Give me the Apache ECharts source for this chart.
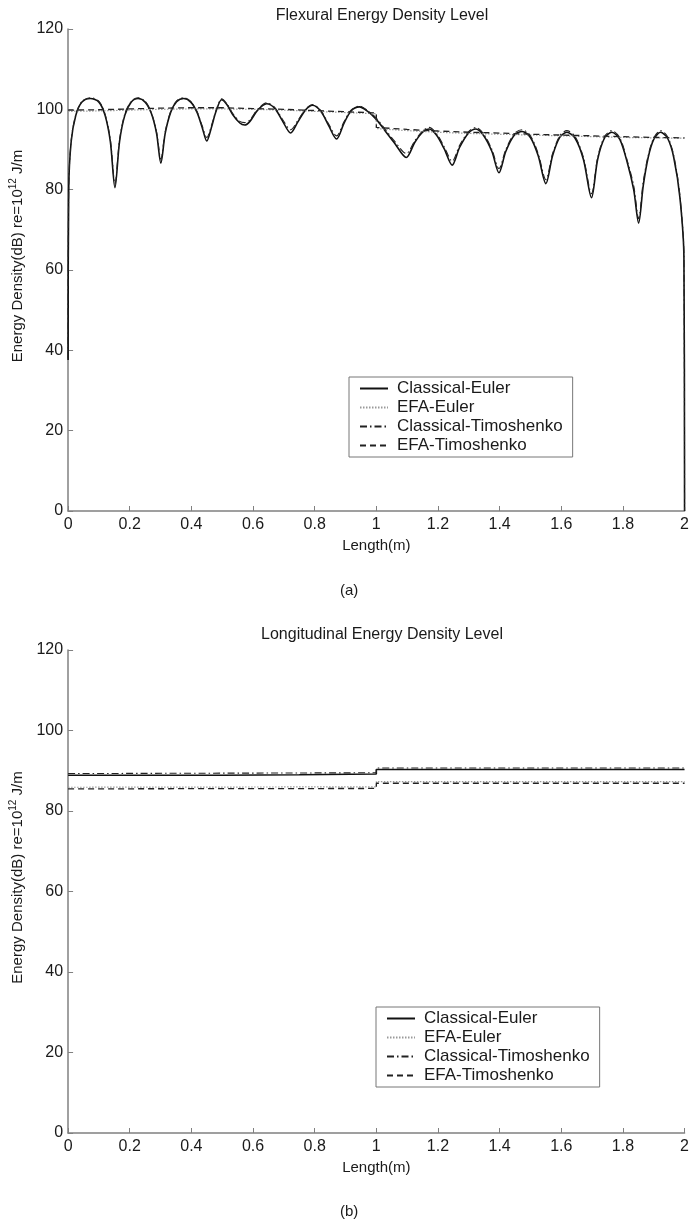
<!DOCTYPE html>
<html>
<head>
<meta charset="utf-8">
<script src="https://cdn.jsdelivr.net/npm/echarts@6/dist/echarts.min.js"></script>
<style>
html,body{margin:0;padding:0;background:#fff;}
#chart{width:692px;height:1228px;}
</style>
</head>
<body>
<div id="chart"></div>
<script>
// ---------- DATA ----------
const seriesNames = ['Classical-Euler', 'EFA-Euler', 'Classical-Timoshenko', 'EFA-Timoshenko'];
const xTicks = { min: 0, max: 2, interval: 0.2 };
const yTicks = { min: 0, max: 120, interval: 20 };

// (a) Flexural energy density level [x (m), dB]
const flexClassicalEuler = [
  [0,37.6],[0.002,80],[0.01,92],[0.025,98.5],[0.045,101.8],[0.072,102.7],[0.1,101.8],[0.12,98.5],[0.137,92],
  [0.152,80.5],[0.167,92],[0.184,98.5],[0.205,101.8],[0.227,102.7],[0.25,101.8],[0.27,99],[0.287,94],
  [0.301,86.6],[0.315,94],[0.333,99.3],[0.352,101.9],[0.375,102.7],[0.398,101.8],[0.418,99.3],[0.435,95.5],
  [0.45,92.1],[0.465,95.5],[0.48,99.5],[0.498,102.4],[0.515,101.2],[0.535,98.6],[0.557,96.6],[0.573,96.1],
  [0.59,97],[0.615,99.8],[0.644,101.4],[0.67,100.3],[0.695,97.2],[0.722,94.1],[0.745,96.8],[0.77,99.8],
  [0.793,101.0],[0.82,99.5],[0.845,96],[0.871,92.6],[0.895,96.5],[0.918,99.6],[0.945,100.6],[0.97,99.6],
  [1.0,97.5],[1.03,94.5],[1.06,91.5],[1.097,88.0],[1.125,91.8],[1.15,94.3],[1.171,95.1],[1.195,93.6],
  [1.22,90.2],[1.246,86.1],[1.27,90.5],[1.298,94],[1.323,95.1],[1.348,93.5],[1.375,89.5],[1.398,84.2],
  [1.42,89.5],[1.448,93.6],[1.473,94.5],[1.5,93],[1.525,88.5],[1.55,81.5],[1.572,88.5],[1.595,93],
  [1.618,94.3],[1.645,92.8],[1.672,87.5],[1.698,78],[1.718,87.5],[1.74,92.8],[1.764,94.3],[1.79,92.5],
  [1.815,86.5],[1.835,80],[1.851,71.7],[1.866,81],[1.882,88],[1.9,92.5],[1.922,94.3],[1.945,92.8],
  [1.965,88],[1.985,78],[1.998,63],[2.0,0]
];
const flexClassicalTimo = [
  [0,38],[0.002,80.5],[0.01,92.3],[0.025,98.7],[0.045,102],[0.072,102.9],[0.1,102],[0.12,98.8],[0.137,92.5],
  [0.152,81.5],[0.167,92.5],[0.184,98.8],[0.205,102],[0.227,102.9],[0.25,102],[0.27,99.2],[0.287,94.4],
  [0.301,87.6],[0.315,94.4],[0.333,99.5],[0.352,102.1],[0.375,102.9],[0.398,102],[0.418,99.5],[0.435,95.9],
  [0.45,93],[0.465,95.9],[0.48,99.7],[0.498,102.6],[0.515,101.4],[0.535,98.9],[0.557,97],[0.573,96.7],
  [0.59,97.4],[0.615,100],[0.644,101.6],[0.67,100.5],[0.695,97.6],[0.722,94.9],[0.745,97.2],[0.77,100],
  [0.793,101.2],[0.82,99.7],[0.845,96.4],[0.871,93.4],[0.895,96.9],[0.918,99.8],[0.945,100.8],[0.97,99.8],
  [1.0,97.8],[1.03,94.9],[1.06,92],[1.097,89.0],[1.125,92.2],[1.15,94.6],[1.171,95.5],[1.195,94],
  [1.22,90.7],[1.246,87.1],[1.27,91],[1.298,94.3],[1.323,95.5],[1.348,93.9],[1.375,90],[1.398,85.2],
  [1.42,90],[1.448,94],[1.473,94.9],[1.5,93.4],[1.525,89],[1.55,82.5],[1.572,89],[1.595,93.4],
  [1.618,94.7],[1.645,93.2],[1.672,88],[1.698,79],[1.718,88],[1.74,93.2],[1.764,94.7],[1.79,92.9],
  [1.815,87],[1.835,81],[1.851,72.8],[1.866,82],[1.882,88.5],[1.9,92.9],[1.922,94.7],[1.945,93.2],
  [1.965,88.5],[1.985,78.5],[1.998,63.5],[2.0,0]
];
const flexEFAEuler = [
  [0,99.5],[0.1,99.6],[0.2,99.8],[0.3,100.0],[0.4,100.1],[0.5,100.1],[0.6,100.0],[0.7,99.8],[0.8,99.5],
  [0.9,99.2],[1.0,98.9],[1.0,95.2],[1.1,94.7],[1.2,94.3],[1.3,94.0],[1.4,93.8],[1.5,93.6],[1.6,93.4],
  [1.7,93.2],[1.8,93.0],[1.9,92.9],[2.0,92.8]
];
const flexEFATimo = [
  [0,99.8],[0.1,99.9],[0.2,100.1],[0.3,100.3],[0.4,100.4],[0.5,100.4],[0.6,100.2],[0.7,100.0],[0.8,99.7],
  [0.9,99.4],[1.0,99.1],[1.0,95.5],[1.1,95.0],[1.2,94.6],[1.3,94.3],[1.4,94.1],[1.5,93.8],[1.6,93.6],
  [1.7,93.4],[1.8,93.2],[1.9,93.0],[2.0,92.9]
];

// (b) Longitudinal energy density level [x (m), dB]
const longClassicalEuler = [[0,88.9],[0.5,88.9],[0.75,89.0],[1.0,89.2],[1.0,90.3],[2.0,90.3]];
const longClassicalTimo  = [[0,89.3],[1.0,89.5],[1.0,90.7],[2.0,90.7]];
const longEFAEuler       = [[0,85.9],[1.0,86.0],[1.0,87.3],[2.0,87.3]];
const longEFATimo        = [[0,85.5],[1.0,85.6],[1.0,86.9],[2.0,86.9]];

const titles = ['Flexural Energy Density Level', 'Longitudinal Energy Density Level'];
const captions = ['(a)', '(b)'];

// ---------- STYLE ----------
const FONT = 'Liberation Sans, Arial, sans-serif';
const AXIS = '#808080';
const TXT = '#1a1a1a';
const lineStyles = {
  'Classical-Euler':      { color: '#111', width: 1.6, type: 'solid' },
  'EFA-Euler':            { color: '#9a9a9a', width: 1.2, type: [1.5, 1.5] },
  'Classical-Timoshenko': { color: '#222', width: 1.1, type: [7, 3, 1.5, 3] },
  'EFA-Timoshenko':       { color: '#222', width: 1.3, type: [6, 4] }
};

const grids = [
  { left: 68, right: 6, top: 29, height: 482 },
  { left: 68, right: 6, top: 650, height: 483 }
];

function xAxisFor(i) {
  return {
    type: 'value', gridIndex: i, min: xTicks.min, max: xTicks.max, interval: xTicks.interval,
    axisLine: { show: true, onZero: false, lineStyle: { color: AXIS, width: 1.5 } },
    axisTick: { show: true, inside: true, length: 5, lineStyle: { color: AXIS, width: 1 } },
    axisLabel: { color: TXT, fontSize: 16, fontFamily: FONT, margin: 6 },
    splitLine: { show: false },
    name: 'Length(m)', nameLocation: 'middle', nameGap: 27,
    nameTextStyle: { color: TXT, fontSize: 15, fontFamily: FONT }
  };
}
function yAxisFor(i) {
  return {
    type: 'value', gridIndex: i, min: yTicks.min, max: yTicks.max, interval: yTicks.interval,
    axisLine: { show: true, onZero: false, lineStyle: { color: AXIS, width: 1.5 } },
    axisTick: { show: true, inside: true, length: 5, lineStyle: { color: AXIS, width: 1 } },
    axisLabel: { color: TXT, fontSize: 16, fontFamily: FONT, margin: 5 },
    splitLine: { show: false },
    name: '{n|Energy Density(dB) re=10}{s|12}{n| J/m}',
    nameLocation: 'middle', nameRotate: 90, nameGap: 36,
    nameTextStyle: {
      color: TXT, fontFamily: FONT, padding: [0, 0, 0, 28],
      rich: {
        n: { fontSize: 15, fontFamily: FONT, color: TXT, lineHeight: 20 },
        s: { fontSize: 10, fontFamily: FONT, color: TXT, lineHeight: 20, verticalAlign: 'top', padding: [0, 0, 6, 0] }
      }
    }
  };
}

function mk(name, data, gi, smooth) {
  return {
    name: name, type: 'line', xAxisIndex: gi, yAxisIndex: gi, data: data,
    symbol: 'none', showSymbol: false, smooth: smooth ? 0.3 : false,
    lineStyle: lineStyles[name], itemStyle: { color: lineStyles[name].color },
    emphasis: { disabled: true }, silent: true
  };
}

const legendBase = {
  orient: 'vertical', data: seriesNames, itemWidth: 28, itemHeight: 16, itemGap: 2,
  itemStyle: { opacity: 0, borderWidth: 0 },
  borderColor: '#777', borderWidth: 1, backgroundColor: '#fff',
  padding: [3, 10, 3, 10], selectedMode: false,
  textStyle: { color: TXT, fontSize: 17, fontFamily: FONT, padding: [0, 0, 0, 4] }
};

const option = {
  animation: false,
  backgroundColor: '#fff',
  title: [
    { text: titles[0], left: 377, top: 3, textAlign: 'center', textStyle: { color: TXT, fontSize: 16, fontWeight: 'normal', fontFamily: FONT } },
    { text: titles[1], left: 377, top: 622, textAlign: 'center', textStyle: { color: TXT, fontSize: 16, fontWeight: 'normal', fontFamily: FONT } }
  ],
  grid: grids,
  xAxis: [xAxisFor(0), xAxisFor(1)],
  yAxis: [yAxisFor(0), yAxisFor(1)],
  legend: [
    Object.assign({}, legendBase, { left: 349, top: 377 }),
    Object.assign({}, legendBase, { left: 376, top: 1007 })
  ],
  graphic: [
    { type: 'text', left: 340, top: 583, style: { text: captions[0], fill: TXT, font: '15px ' + FONT } },
    { type: 'text', left: 340, top: 1204, style: { text: captions[1], fill: TXT, font: '15px ' + FONT } }
  ],
  series: [
    mk('Classical-Euler', flexClassicalEuler, 0, true),
    mk('EFA-Euler', flexEFAEuler, 0, false),
    mk('Classical-Timoshenko', flexClassicalTimo, 0, true),
    mk('EFA-Timoshenko', flexEFATimo, 0, false),
    mk('Classical-Euler', longClassicalEuler, 1, false),
    mk('EFA-Euler', longEFAEuler, 1, false),
    mk('Classical-Timoshenko', longClassicalTimo, 1, false),
    mk('EFA-Timoshenko', longEFATimo, 1, false)
  ]
};

const chart = echarts.init(document.getElementById('chart'), null, { renderer: 'canvas' });
chart.setOption(option);
</script>
</body>
</html>
